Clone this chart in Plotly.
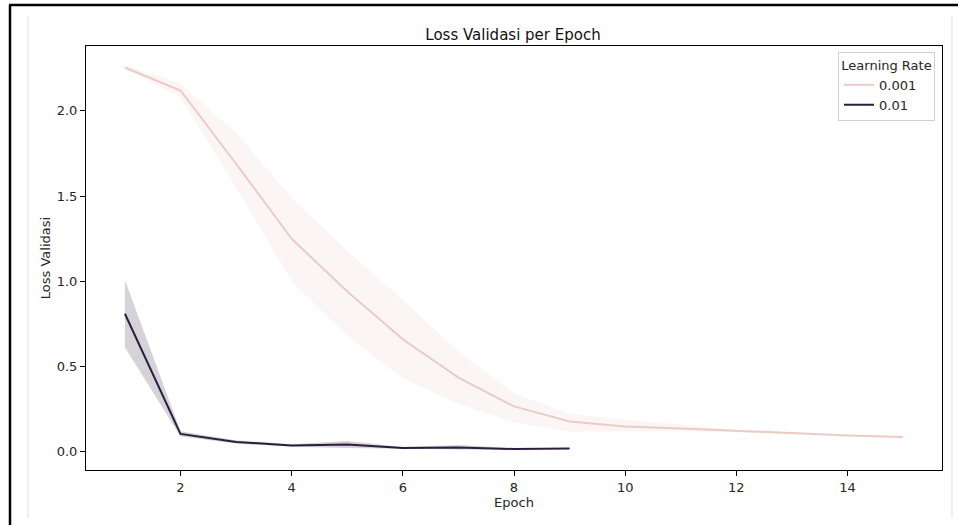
import plotly.graph_objects as go

# ---- data ----
epochs_001 = [1, 2, 3, 4, 5, 6, 7, 8, 9, 10, 11, 12, 13, 14, 15]
mean_001 = [2.255, 2.12, 1.69, 1.25, 0.94, 0.66, 0.435, 0.266, 0.178, 0.148, 0.137, 0.123, 0.107, 0.096, 0.086]
lo_001 = [2.245, 2.08, 1.55, 1.00, 0.68, 0.43, 0.28, 0.172, 0.119, 0.119, 0.120, 0.115, 0.100, 0.090, 0.080]
hi_001 = [2.268, 2.16, 1.87, 1.49, 1.18, 0.89, 0.59, 0.344, 0.223, 0.188, 0.160, 0.131, 0.114, 0.102, 0.092]

epochs_01 = [1, 2, 3, 4, 5, 6, 7, 8, 9]
mean_01 = [0.81, 0.105, 0.058, 0.037, 0.043, 0.022, 0.025, 0.016, 0.019]
lo_01 = [0.614, 0.090, 0.048, 0.030, 0.022, 0.016, 0.013, 0.012, 0.019]
hi_01 = [1.008, 0.120, 0.068, 0.044, 0.063, 0.028, 0.040, 0.020, 0.019]

series_names = ["0.001", "0.01"]
x_ticks = [2, 4, 6, 8, 10, 12, 14]
y_ticks = [0.0, 0.5, 1.0, 1.5, 2.0]

# ---- style ----
C_LIGHT = "#ebcbc5"
C_DARK = "#2d1e3e"
BAND_LIGHT = "rgba(237,209,203,0.2)"
BAND_DARK = "rgba(45,30,62,0.2)"
FONT = "DejaVu Sans"
TXT = "#262626"

W, H = 958, 525
L, R, T, B = 86, 16, 46, 55
pw, ph = W - L - R, H - T - B


def px(xp):
    return (xp - L) / pw


def py(yp):
    return (H - B - yp) / ph


fig = go.Figure()

for ep, lo, hi, col in [(epochs_001, lo_001, hi_001, BAND_LIGHT), (epochs_01, lo_01, hi_01, BAND_DARK)]:
    fig.add_trace(go.Scatter(
        x=ep + ep[::-1], y=hi + lo[::-1], fill="toself", fillcolor=col,
        line=dict(width=0), mode="lines", showlegend=False, hoverinfo="skip"))

fig.add_trace(go.Scatter(x=epochs_001, y=mean_001, mode="lines", name=series_names[0],
                         line=dict(color=C_LIGHT, width=2)))
fig.add_trace(go.Scatter(x=epochs_01, y=mean_01, mode="lines", name=series_names[1],
                         line=dict(color=C_DARK, width=2)))

axis_common = dict(showgrid=False, zeroline=False, showline=True, linecolor="#000000", linewidth=1,
                   mirror=True, ticks="outside", ticklen=5, tickwidth=1, tickcolor="#000000",
                   tickfont=dict(family=FONT, size=13, color=TXT))

fig.update_xaxes(range=[0.3, 15.7], tickvals=x_ticks, ticktext=[str(v) for v in x_ticks],
                 title=dict(text="Epoch", font=dict(family=FONT, size=13, color=TXT), standoff=4),
                 **axis_common)
fig.update_yaxes(range=[-0.107, 2.381], tickvals=y_ticks, ticktext=[f"{v:.1f}" for v in y_ticks],
                 title=dict(text="Loss Validasi", font=dict(family=FONT, size=13, color=TXT), standoff=3),
                 **axis_common)

shapes = [
    # screenshot frame decorations
    dict(type="line", xref="paper", yref="paper", x0=px(9), x1=px(958), y0=py(5), y1=py(5),
         line=dict(color="#000000", width=2.5)),
    dict(type="line", xref="paper", yref="paper", x0=px(10), x1=px(10), y0=py(5), y1=py(525),
         line=dict(color="#000000", width=2.5)),
    dict(type="line", xref="paper", yref="paper", x0=px(28), x1=px(28), y0=py(16), y1=py(518),
         line=dict(color="#f0f0f0", width=2)),
    dict(type="line", xref="paper", yref="paper", x0=px(952), x1=px(952), y0=py(16), y1=py(518),
         line=dict(color="#f0f0f0", width=2)),
]

fig.update_layout(
    width=W, height=H,
    margin=dict(l=L, r=R, t=T, b=B),
    paper_bgcolor="white", plot_bgcolor="white",
    font=dict(family=FONT, size=13, color=TXT),
    title=dict(text="Loss Validasi per Epoch", x=513 / W, xanchor="center",
               y=1 - 35 / H, yanchor="middle", font=dict(family=FONT, size=15, color="#111111")),
    legend=dict(x=px(935), y=py(52), xanchor="right", yanchor="top",
                bgcolor="rgba(255,255,255,0.8)", bordercolor="#d0d0d0", borderwidth=1,
                title=dict(text="Learning Rate", side="top center", font=dict(family=FONT, size=13)),
                font=dict(family=FONT, size=13), itemwidth=30, tracegroupgap=0),
    shapes=shapes,
    showlegend=True,
)

fig.write_html("out.html", config={"displayModeBar": False},
               post_script="document.body.style.margin='0';document.body.style.padding='0';")
